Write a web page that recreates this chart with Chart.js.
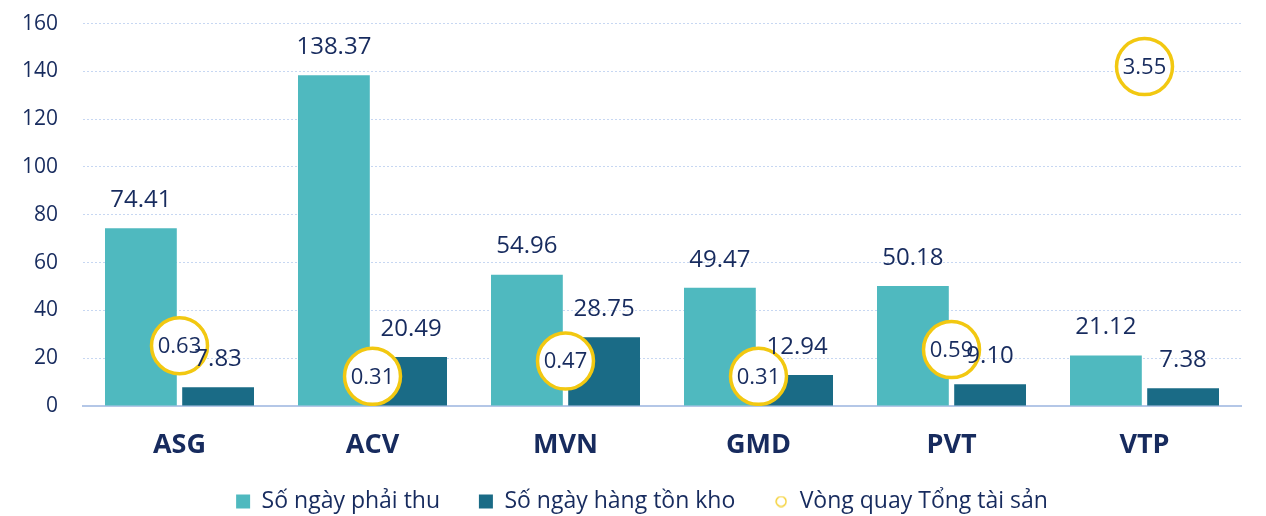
<!DOCTYPE html>
<html>
<head>
<meta charset="utf-8">
<script src="https://cdn.jsdelivr.net/npm/chart.js@4"></script>
<style>
  body{margin:0;background:#fff;}
  #wrap{width:1266px;height:516px;position:relative;}
</style>
</head>
<body>
<div id="wrap"><canvas id="myChart"></canvas></div>
<script>
var companies = ["ASG", "ACV", "MVN", "GMD", "PVT", "VTP"];
var receivableDays = [74.41, 138.37, 54.96, 49.47, 50.18, 21.12];
var inventoryDays = [7.83, 20.49, 28.75, 12.94, 9.10, 7.38];
var assetTurnover = [0.63, 0.31, 0.47, 0.31, 0.59, 3.55];
var yTicks = [0, 20, 40, 60, 80, 100, 120, 140, 160];

var navy = "#172b5e";
var yellow = "#f2c811";

// small ring for the legend
var ring = document.createElement("canvas");
ring.width = 12; ring.height = 12;
var rc = ring.getContext("2d");
rc.strokeStyle = yellow;
rc.lineWidth = 1.2;
rc.beginPath();
rc.arc(6, 6, 5, 0, Math.PI * 2);
rc.stroke();

// value labels: circle text first, bar text on top
var labelPlugin = {
  id: "labels",
  afterDatasetsDraw: function(chart){
    var ctx = chart.ctx;
    ctx.save();
    ctx.fillStyle = navy;
    ctx.textAlign = "center";
    ctx.textBaseline = "middle";
    ctx.font = "22px 'Open Sans'";
    var m2 = chart.getDatasetMeta(2);
    m2.data.forEach(function(pt, i){
      ctx.fillText(assetTurnover[i].toFixed(2), pt.x, pt.y + 1);
    });
    ctx.font = "24px 'Open Sans'";
    [0, 1].forEach(function(d){
      var meta = chart.getDatasetMeta(d);
      var vals = chart.data.datasets[d].data;
      meta.data.forEach(function(bar, i){
        ctx.fillText(vals[i].toFixed(2), bar.x, bar.y - 28);
      });
    });
    ctx.restore();
  }
};

var ctx = document.getElementById("myChart");
var myChart = new Chart(ctx, {
  type: "bar",
  data: {
    labels: companies,
    datasets: [
      {
        label: "Số ngày phải thu",
        data: receivableDays,
        backgroundColor: "#4fb9bf",
        pointStyle: "rect",
        order: 1,
        yAxisID: "y"
      },
      {
        label: "Số ngày hàng tồn kho",
        data: inventoryDays,
        backgroundColor: "#1a6b86",
        pointStyle: "rect",
        order: 1,
        yAxisID: "y"
      },
      {
        type: "line",
        label: "Vòng quay Tổng tài sản",
        data: assetTurnover,
        showLine: false,
        pointStyle: "circle",
        pointRadius: 28,
        pointHoverRadius: 28,
        pointBorderWidth: 3.5,
        pointBackgroundColor: "#ffffff",
        pointBorderColor: yellow,
        borderColor: yellow,
        backgroundColor: "#ffffff",
        order: 0,
        yAxisID: "y2"
      }
    ]
  },
  options: {
    responsive: true,
    maintainAspectRatio: false,
    animation: false,
    datasets: {
      bar: { categoryPercentage: 0.8, barPercentage: 0.93 }
    },
    layout: { autoPadding: false, padding: { top: 0, right: 0, left: 18, bottom: 0 } },
    plugins: {
      tooltip: { enabled: false },
      legend: {
        position: "bottom",
        labels: {
          usePointStyle: true,
          boxWidth: 14,
          boxHeight: 14,
          padding: 3,
          color: navy,
          font: { family: "'Open Sans'", size: 23 },
          sort: function(a, b){ return a.datasetIndex - b.datasetIndex; },
          generateLabels: function(chart){
            var items = Chart.defaults.plugins.legend.labels.generateLabels(chart);
            items.forEach(function(it){
              if (it.datasetIndex == 2) { it.pointStyle = ring; }
              else { it.lineWidth = 0; it.text = it.text + "      "; }
            });
            return items;
          }
        }
      }
    },
    scales: {
      x: {
        grid: { display: false, drawTicks: false },
        border: { color: "#b4c7e7", width: 2 },
        ticks: {
          color: navy,
          padding: 23,
          font: { family: "'Open Sans'", size: 27, weight: "bold" }
        },
        afterFit: function(axis){ axis.height = 81; }
      },
      y: {
        min: 0,
        max: 160,
        afterBuildTicks: function(axis){
          axis.ticks = yTicks.map(function(v){ return { value: v }; });
        },
        grid: { color: "#c7d7f2", lineWidth: 1, drawTicks: true, tickLength: 14, tickColor: "rgba(0,0,0,0)" },
        border: { display: false, dash: [2, 2] },
        ticks: {
          color: navy,
          padding: 11,
          font: { family: "'Open Sans'", size: 21 }
        },
        afterFit: function(axis){ axis.width = 65; }
      },
      y2: {
        position: "right",
        min: 0,
        max: 4,
        grid: { display: false, drawTicks: false },
        border: { display: false },
        ticks: { display: false },
        afterFit: function(axis){ axis.width = 25; }
      }
    }
  },
  plugins: [labelPlugin]
});

// legend box: drop the built-in 10px bottom gap
var legendFit = myChart.legend.fit;
myChart.legend.fit = function(){
  legendFit.call(this);
  this.height -= 7;
};
myChart.update();
</script>
</body>
</html>
